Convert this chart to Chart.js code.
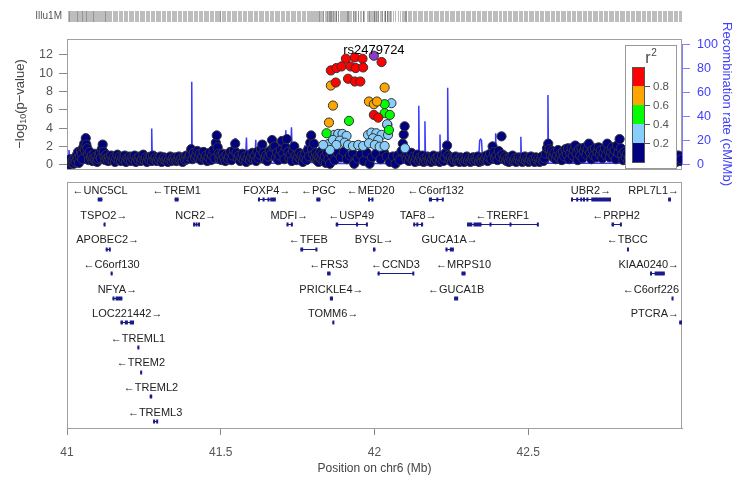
<!DOCTYPE html>
<html>
<head>
<meta charset="utf-8">
<script src="https://cdn.jsdelivr.net/npm/chart.js@4.4.0/dist/chart.umd.min.js"></script>
<style>
  body { margin: 0; background: #fff; }
  #wrap { position: relative; width: 750px; height: 480px; }
  canvas { position: absolute; left: 0; top: 0; }
</style>
</head>
<body>
<div id="wrap">
  <canvas id="genes" width="750" height="480"></canvas>
  <canvas id="assoc" width="750" height="480"></canvas>
</div>
<script>
// --- data: [position (Mb), -log10 p] by r2 bin ---
const leadSnp = [[41.998, 11.92]];
const leadName = 'rs2479724';

const ldRed = [
  [41.907,11.59],[41.936,11.73],[41.961,11.59],[42.023,11.23],
  [41.858,10.31],[41.876,10.57],[41.893,10.75],[41.922,10.75],[41.939,10.57],[41.963,10.64],
  [41.874,8.99],[41.914,9.40],[41.936,9.10],[41.954,9.10],
  [41.998,5.45],[42.012,5.15]
];
const ldOrange = [
  [41.858,8.66],[41.865,6.47],[41.852,4.61],[42.033,8.44],[41.982,6.91],[41.998,6.62],[42.008,6.91]
];
const ldGreen = [
  [41.917,4.79],[41.844,3.44],[42.033,6.62],[42.033,5.64],[42.050,5.45],[42.047,3.80]
];
const ldBlue = [
  [41.851,2.26],[41.869,3.26],[41.882,3.37],[41.896,3.37],[41.909,3.15],[41.865,2.71],[41.887,2.63],
  [41.903,2.41],[41.876,2.16],[41.855,1.61],[41.914,2.16],[41.930,2.05],[41.947,2.16],[41.963,2.05],
  [41.979,3.26],[41.990,3.51],[42.006,3.44],[42.023,3.26],[41.995,2.89],[42.012,2.71],[41.982,2.35],
  [42.001,2.16],[42.017,1.97],[42.033,2.05],[42.042,4.35],[42.099,1.80],[41.833,2.16],[42.055,6.73],
  [42.041,4.43],[42.044,3.26]
];
const ldNavy = [
  [41.002,0.1],[41.005,0.4],[41.008,0.0],[41.010,0.6],[41.013,0.2],[41.016,0.3],[41.019,0.5],[41.022,0.1],
  [41.025,0.7],[41.028,0.3],[41.031,1.0],[41.034,0.6],[41.036,1.4],[41.039,0.2],
  [41.042,0.9],[41.045,1.5],[41.048,1.2],[41.050,0.6],[41.053,1.9],[41.056,2.3],[41.058,1.6],[41.061,2.9],
  [41.063,2.2],[41.066,1.8],[41.068,1.1],[41.071,0.5],[41.074,1.4],[41.077,0.8],[41.080,1.0],[41.083,0.4],
  [41.086,0.7],[41.089,1.2],[41.092,0.5],[41.095,0.9],[41.098,0.3],[41.101,0.6],[41.104,1.0],
  [41.107,1.3],[41.110,0.7],[41.113,1.7],[41.116,2.2],[41.119,1.4],[41.122,0.9],[41.125,0.5],[41.128,1.1],
  [41.131,0.7],[41.134,0.4],[41.137,0.9],[41.140,0.6],[41.144,1.0],[41.148,0.5],[41.152,0.8],[41.156,0.3],
  [41.160,0.7],[41.164,1.1],[41.168,0.5],
  [41.172,0.9],[41.176,0.4],[41.180,0.8],[41.184,0.6],[41.188,1.0],[41.192,0.3],[41.196,0.7],[41.200,0.5],
  [41.204,0.9],[41.208,0.4],[41.212,0.8],[41.216,0.6],[41.220,1.0],[41.224,0.3],[41.228,0.7],[41.232,0.5],
  [41.236,0.9],[41.240,0.4],[41.244,0.6],[41.248,1.1],[41.252,0.5],[41.256,0.8],[41.260,0.3],[41.264,0.7],
  [41.268,0.5],[41.272,0.9],[41.276,0.4],[41.280,1.0],[41.284,0.6],[41.288,0.8],[41.292,0.4],[41.296,0.7],
  [41.300,0.5],[41.304,0.9],[41.308,0.3],[41.312,0.6],[41.316,0.8],[41.320,0.5],[41.324,0.7],[41.328,0.3],
  [41.332,0.6],[41.336,0.9],[41.340,0.4],[41.344,0.7],[41.348,0.5],[41.352,0.8],[41.356,0.4],[41.360,0.6],
  [41.364,0.9],[41.368,0.5],[41.372,0.7],[41.376,0.3],[41.380,0.8],[41.384,0.5],[41.388,1.0],[41.392,0.6],
  [41.396,0.9],
  [41.400,1.1],[41.404,1.7],[41.408,0.6],[41.412,1.3],[41.416,0.8],[41.420,1.0],[41.424,1.5],[41.428,0.7],
  [41.432,1.2],[41.436,0.5],[41.440,0.9],[41.444,1.4],[41.448,0.6],[41.452,1.0],[41.456,0.4],
  [41.460,0.8],[41.464,1.3],[41.468,0.5],[41.472,1.0],[41.476,1.6],[41.480,0.7],[41.484,2.4],[41.487,3.2],
  [41.490,1.9],[41.493,1.2],[41.496,0.6],[41.499,1.0],
  [41.503,0.5],[41.507,1.2],[41.511,0.8],[41.515,0.4],[41.519,1.1],[41.523,0.6],[41.527,0.9],[41.531,1.4],
  [41.535,0.5],[41.539,1.0],[41.543,1.6],[41.547,2.3],[41.551,1.3],[41.555,0.7],[41.559,1.0],[41.563,0.4],
  [41.567,0.8],[41.571,1.2],[41.575,0.5],[41.579,0.9],[41.583,0.3],[41.587,0.7],[41.591,1.1],[41.595,0.5],
  [41.599,0.8],[41.603,1.3],[41.607,0.6],[41.611,1.0],[41.615,0.4],[41.619,1.4],[41.623,0.7],[41.627,1.1],
  [41.631,1.7],[41.635,2.2],[41.639,1.3],[41.643,0.6],[41.647,1.0],[41.651,0.4],[41.655,0.9],[41.659,1.5],
  [41.663,1.1],[41.667,2.7],[41.671,1.9],[41.675,2.0],[41.679,0.8],[41.683,1.3],[41.687,0.5],[41.691,1.0],
  [41.695,1.6],[41.699,2.6],[41.703,1.2],[41.707,0.6],[41.711,1.9],[41.715,2.8],[41.719,1.4],[41.723,0.7],
  [41.727,1.1],[41.731,0.4],[41.735,1.5],[41.739,2.0],[41.743,1.0],[41.747,0.5],[41.751,0.9],[41.755,1.3],
  [41.759,0.6],[41.763,1.0],[41.767,0.3],[41.771,0.8],[41.775,1.2],[41.779,0.5],[41.783,1.6],[41.787,0.9],
  [41.791,2.4],[41.794,3.2],[41.797,1.7],[41.800,1.1],[41.803,2.3],[41.806,0.7],[41.809,1.3],[41.812,0.5],
  [41.815,1.0],[41.818,0.3],[41.821,0.8],[41.824,1.4],[41.827,0.6],[41.830,1.1],[41.834,0.4],[41.838,0.9],
  [41.842,0.2],[41.846,1.3],[41.850,0.6],[41.855,0.1],
  [41.862,1.0],[41.870,0.5],[41.880,1.3],[41.890,0.8],[41.900,1.4],[41.910,0.6],[41.920,1.0],[41.930,1.2],
  [41.934,0.1],[41.945,0.7],[41.955,1.1],[41.965,0.4],[41.975,1.3],[41.984,0.1],[41.992,0.8],[42.005,1.2],
  [42.020,0.6],[42.030,1.4],[42.040,0.9],[42.050,0.3],[42.060,0.9],[42.068,0.1],[42.075,1.0],[42.082,0.5],
  [42.088,1.5],[42.092,2.3],[42.095,3.3],[42.098,4.2],[42.101,1.0],
  [42.104,0.6],[42.108,1.2],[42.112,0.4],[42.116,0.8],[42.120,1.3],[42.124,0.5],[42.128,0.9],[42.132,0.3],
  [42.136,0.7],[42.140,1.1],[42.144,0.4],[42.148,0.8],[42.152,0.5],[42.156,1.0],[42.160,0.3],[42.164,0.7],
  [42.168,0.4],[42.172,0.9],[42.176,0.5],[42.180,0.8],[42.184,0.3],[42.188,0.6],[42.192,1.0],[42.196,0.4],
  [42.200,0.7],[42.204,0.5],[42.208,0.9],[42.212,0.3],[42.216,0.6],[42.220,1.0],[42.224,0.4],[42.228,0.8],
  [42.232,1.3],[42.236,2.1],[42.240,1.0],[42.244,0.5],[42.248,0.8],[42.252,0.3],[42.256,0.7],[42.260,0.5],
  [42.264,0.9],[42.268,0.4],[42.272,0.6],[42.276,0.3],[42.280,0.8],[42.284,0.5],[42.288,0.7],[42.292,0.3],
  [42.296,0.6],[42.300,0.9],[42.304,0.4],[42.308,0.7],[42.312,0.3],[42.316,0.6],[42.320,0.8],[42.324,0.4],
  [42.328,0.7],[42.332,0.5],[42.336,0.9],[42.340,0.3],[42.344,0.6],[42.348,0.4],[42.352,0.8],[42.356,0.5],
  [42.360,0.7],[42.364,1.0],[42.368,0.4],
  [42.372,0.8],[42.376,1.2],[42.380,0.6],[42.384,2.0],[42.388,1.4],[42.392,0.7],[42.396,1.0],[42.400,0.5],
  [42.404,1.5],[42.408,0.9],[42.413,3.1],[42.417,1.1],[42.421,0.6],[42.425,0.9],[42.429,0.4],[42.433,0.7],
  [42.437,0.3],[42.441,0.8],[42.445,0.5],[42.449,1.0],[42.453,0.4],[42.457,0.7],[42.461,0.3],[42.465,0.6],
  [42.469,0.8],
  [42.473,0.4],[42.477,0.7],[42.481,0.3],[42.485,0.6],[42.489,0.9],[42.493,0.4],[42.497,0.7],[42.501,0.3],
  [42.505,0.6],[42.509,0.9],[42.513,0.4],[42.517,0.6],[42.521,0.3],[42.525,0.8],[42.529,0.5],[42.533,0.7],
  [42.537,0.3],[42.541,0.6],[42.545,0.9],[42.549,0.4],[42.553,0.7],[42.557,1.2],[42.561,1.8],[42.565,2.3],
  [42.569,1.7],[42.573,1.1],[42.577,1.5],[42.581,0.8],[42.585,1.3],[42.589,0.6],[42.593,1.0],[42.597,1.6],
  [42.601,0.7],[42.605,1.2],[42.609,0.5],[42.613,1.4],[42.617,0.9],[42.621,1.7],[42.625,1.1],[42.629,1.8],
  [42.633,0.6],[42.637,1.3],[42.641,1.8],[42.645,1.0],[42.649,1.6],[42.653,2.1],[42.657,1.2],[42.661,0.5],
  [42.665,1.7],[42.669,1.0],[42.673,1.8],[42.677,0.7],[42.681,1.5],[42.685,1.9],[42.689,1.1],[42.693,1.7],
  [42.697,2.3],[42.701,1.3],[42.705,0.6],[42.709,1.6],[42.713,1.0],[42.717,1.8],[42.721,0.8],[42.725,1.4],
  [42.729,1.9],[42.733,1.1],[42.737,1.6],[42.741,0.7],[42.745,1.3],[42.749,1.8],[42.753,1.0],[42.757,2.3],
  [42.761,1.5],[42.765,0.8],[42.769,1.4],[42.773,1.9],[42.777,1.0],[42.781,1.6],[42.785,0.6],[42.789,2.1],
  [42.793,1.3],[42.797,2.8],[42.801,1.8],[42.805,1.1],[42.809,0.5],[42.813,1.4],[42.817,0.8],[42.821,1.2],
  [42.825,0.4],[42.829,0.9],[42.833,1.5],[42.837,0.6],[42.841,1.1],[42.845,0.3],[42.849,0.8],[42.853,1.3],
  [42.857,0.5],[42.861,1.0],[42.865,1.6],[42.869,0.7],[42.873,1.2],[42.877,0.4],[42.881,0.9],[42.885,1.4],
  [42.889,0.6],[42.893,1.0],[42.897,0.3],[42.901,0.8],[42.905,1.2],[42.909,0.5],[42.913,0.9],[42.917,1.5],
  [42.921,0.7],[42.925,1.1],[42.929,0.4],[42.933,0.8],[42.937,1.3],[42.941,0.6],[42.945,1.0],[42.949,0.3],
  [42.953,0.7],[42.957,1.1],[42.961,0.5],[42.965,0.9],[42.969,1.4],[42.973,0.6],[42.977,1.0],[42.981,0.3],
  [42.985,0.7],[42.989,1.0],[42.993,0.4],[42.997,0.6]
];

// recombination rate (cM/Mb)
const recombPos = [41.000,41.004,41.0065,41.009,41.05,41.10,41.15,41.20,41.267,41.270,41.272,41.2745,41.2755,41.2775,
  41.33,41.40,41.4045,41.4057,41.407,41.45,41.50,41.544,41.5465,41.549,41.58,41.5836,41.586,41.611,41.6139,41.616,
  41.67,41.709,41.7115,41.714,41.727,41.730,41.733,41.771,41.773,41.775,41.81,41.813,41.816,41.85,41.95,42.05,
  42.10,42.142,42.144,42.146,42.162,42.164,42.166,42.211,42.213,42.215,42.236,42.238,42.240,42.304,42.306,42.308,
  42.321,42.323,42.325,42.338,42.342,42.345,42.348,42.352,42.392,42.394,42.396,42.474,42.476,42.478,42.562,42.564,
  42.566,42.65,42.75,42.85,42.95,43.0];
const recombRate = [0.8,1.5,12,1,1.2,0.8,1.0,0.9,1,8,1.5,2,30,1.5,
  1.0,1.5,2,69,2,1.0,1.2,2,22,2,2,22.5,1.5,2,20.6,1.5,
  1,1.5,28.6,2,2,31,2,1.5,16,1.5,1.5,12,1,0.8,0.8,0.8,
  1,1,49,1,1,36,1,1,25,1,1,64,1,1,9,1,
  1,10,1,1,20,21,20,1,1,26,1,1,23,1,1,58,
  1,1,1,1.2,1,1];

// genes: name, start, end, strand, row, exons
const genes = [
  ['UNC5CL',41.100,41.115,-1,1,null],
  ['TREM1',41.350,41.363,-1,1,null],
  ['FOXP4',41.621,41.679,1,1,[[41.621,41.623],[41.636,41.638],[41.652,41.654],[41.661,41.679]]],
  ['PGC',41.811,41.824,-1,1,null],
  ['MED20',41.979,41.996,-1,1,[[41.979,41.983],[41.990,41.996]]],
  ['C6orf132',42.177,42.221,-1,1,[[42.177,42.187],[42.201,42.203],[42.219,42.221]]],
  ['UBR2',42.639,42.769,1,1,[[42.639,42.641],[42.656,42.658],[42.669,42.671],[42.678,42.680],[42.689,42.691],[42.705,42.769]]],
  ['RPL7L1',42.955,42.964,1,1,null],
  ['TSPO2',41.119,41.121,1,2,null],
  ['NCR2',41.410,41.428,1,2,[[41.410,41.412],[41.418,41.420],[41.426,41.428]]],
  ['MDFI',41.714,41.732,1,2,[[41.714,41.718],[41.728,41.732]]],
  ['USP49',41.874,41.974,-1,2,[[41.874,41.882],[41.940,41.942],[41.972,41.974]]],
  ['TAF8',42.126,42.158,1,2,[[42.126,42.129],[42.136,42.139],[42.151,42.158]]],
  ['TRERF1',42.301,42.530,-1,2,[[42.301,42.318],[42.322,42.348],[42.374,42.376],[42.439,42.441],[42.528,42.530]]],
  ['PRPH2',42.771,42.800,-1,2,[[42.771,42.779],[42.798,42.800]]],
  ['APOBEC2',41.126,41.139,1,3,[[41.126,41.129],[41.136,41.139]]],
  ['TFEB',41.759,41.811,-1,3,[[41.759,41.768],[41.808,41.811]]],
  ['BYSL',41.995,42.003,1,3,null],
  ['GUCA1A',42.231,42.258,1,3,[[42.231,42.234],[42.245,42.258]]],
  ['TBCC',42.821,42.823,-1,3,null],
  ['C6orf130',41.142,41.148,-1,4,null],
  ['FRS3',41.846,41.857,-1,4,null],
  ['CCND3',42.010,42.126,-1,4,[[42.010,42.017],[42.123,42.126]]],
  ['MRPS10',42.283,42.296,-1,4,null],
  ['KIAA0240',42.896,42.944,1,4,[[42.896,42.899],[42.911,42.944]]],
  ['NFYA',41.148,41.180,1,5,[[41.148,41.151],[41.158,41.180]]],
  ['PRICKLE4',41.855,41.865,1,5,null],
  ['GUCA1B',42.259,42.272,-1,5,null],
  ['C6orf226',42.966,42.967,-1,5,null],
  ['LOC221442',41.174,41.218,1,6,[[41.174,41.182],[41.188,41.198],[41.204,41.218]]],
  ['TOMM6',41.863,41.868,1,6,null],
  ['PTCRA',42.991,43.000,1,6,null],
  ['TREML1',41.229,41.233,-1,7,null],
  ['TREM2',41.238,41.243,-1,8,null],
  ['TREML2',41.269,41.277,-1,9,null],
  ['TREML3',41.280,41.293,-1,10,[[41.280,41.283],[41.290,41.293]]]
];

const xTicks = [41, 41.5, 42, 42.5];
const pTicks = [0, 2, 4, 6, 8, 10, 12];
const recombTicks = [0, 20, 40, 60, 80, 100];
const r2Labels = ['0.8', '0.6', '0.4', '0.2'];
const r2Colors = ['#ff0000', '#ffa500', '#00ff00', '#87cefa', '#000080'];
const leadColor = '#8a3cc8';

const FONT = "'Liberation Sans', Arial, sans-serif";
const BLUE = '#4040ff';

function toXY(arr) { return arr.map(d => ({ x: d[0], y: d[1] })); }
function fixTicks(list) { return s => { s.ticks = list.map(v => ({ value: v })); }; }

function pointSet(data, color, order) {
  return {
    type: 'scatter', data: toXY(data), order: order,
    backgroundColor: color, borderColor: '#333', borderWidth: 1,
    pointRadius: 4.6, pointHoverRadius: 4.6, yAxisID: 'y'
  };
}

const assocDecor = {
  id: 'assocDecor',
  beforeDatasetsDraw(chart) {
    const ctx = chart.ctx, a = chart.chartArea;
    ctx.save();
    ctx.strokeStyle = '#a0a0a0';
    ctx.lineWidth = 1;
    ctx.strokeRect(a.left + 0.5, a.top + 0.5, a.right - a.left - 1, a.bottom - a.top);
    ctx.restore();
  },
  afterDraw(chart) {
    const ctx = chart.ctx, a = chart.chartArea;
    const xs = chart.scales.x, ys = chart.scales.y, y2 = chart.scales.y2;
    ctx.save();

    // Illu1M coverage track, one tick per typed SNP
    const all = [].concat(ldNavy, ldBlue, ldGreen, ldOrange, ldRed, leadSnp);
    ctx.strokeStyle = 'rgba(90,90,90,0.4)';
    ctx.lineWidth = 1;
    all.forEach(d => {
      const px = Math.round(xs.getPixelForValue(d[0])) + 0.5;
      ctx.beginPath(); ctx.moveTo(px, 11); ctx.lineTo(px, 22); ctx.stroke();
    });
    ctx.fillStyle = '#555';
    ctx.font = '10px ' + FONT;
    ctx.textAlign = 'right'; ctx.textBaseline = 'middle';
    ctx.fillText('Illu1M', a.left - 5, 16.5);

    // right axis line
    ctx.strokeStyle = '#8080ff';
    ctx.beginPath();
    ctx.moveTo(a.right + 0.5, y2.getPixelForValue(0));
    ctx.lineTo(a.right + 0.5, y2.getPixelForValue(100));
    ctx.stroke();

    // lead SNP label
    const lx = xs.getPixelForValue(leadSnp[0][0]), ly = ys.getPixelForValue(leadSnp[0][1]);
    ctx.fillStyle = '#000';
    ctx.font = '13px ' + FONT;
    ctx.textAlign = 'center'; ctx.textBaseline = 'alphabetic';
    ctx.fillText(leadName, lx, ly - 2);

    // left axis title with subscript
    ctx.save();
    ctx.translate(20, (a.top + a.bottom) / 2);
    ctx.rotate(-Math.PI / 2);
    ctx.fillStyle = '#444';
    const p1 = '\u2212log', p2 = '10', p3 = '(p\u2212value)';
    ctx.font = '13px ' + FONT;
    const w1 = ctx.measureText(p1).width, w3 = ctx.measureText(p3).width;
    ctx.font = '9px ' + FONT;
    const w2 = ctx.measureText(p2).width;
    let x0 = -(w1 + w2 + w3) / 2;
    ctx.textAlign = 'left'; ctx.textBaseline = 'middle';
    ctx.font = '13px ' + FONT; ctx.fillText(p1, x0, 0);
    ctx.font = '9px ' + FONT; ctx.fillText(p2, x0 + w1, 4);
    ctx.font = '13px ' + FONT; ctx.fillText(p3, x0 + w1 + w2, 0);
    ctx.restore();

    // right axis title
    ctx.save();
    ctx.translate(727, (a.top + a.bottom) / 2);
    ctx.rotate(Math.PI / 2);
    ctx.fillStyle = BLUE;
    ctx.font = '13px ' + FONT;
    ctx.textAlign = 'center'; ctx.textBaseline = 'middle';
    ctx.fillText('Recombination rate (cM/Mb)', 0, 0);
    ctx.restore();

    // r2 legend
    const bx = a.right - 57, by = a.top + 6, bw = 51, bh = 123;
    ctx.fillStyle = '#fff';
    ctx.fillRect(bx, by, bw, bh);
    ctx.strokeStyle = '#999';
    ctx.strokeRect(bx + 0.5, by + 0.5, bw, bh);
    ctx.fillStyle = '#444';
    ctx.font = '16px ' + FONT;
    ctx.textAlign = 'center'; ctx.textBaseline = 'alphabetic';
    ctx.fillText('r', bx + 23, by + 18);
    ctx.font = '10px ' + FONT;
    ctx.fillText('2', bx + 29, by + 11);
    const cx = bx + 7, cw = 12, ch = 19, cy = by + 22;
    r2Colors.forEach((c, i) => {
      ctx.fillStyle = c;
      ctx.fillRect(cx, cy + i * ch, cw, ch);
    });
    ctx.strokeStyle = '#555';
    ctx.strokeRect(cx + 0.5, cy + 0.5, cw, ch * r2Colors.length);
    ctx.font = '11.5px ' + FONT;
    ctx.textAlign = 'left'; ctx.textBaseline = 'middle';
    r2Labels.forEach((t, i) => {
      const ty = Math.round(cy + (i + 1) * ch) + 0.5;
      ctx.beginPath(); ctx.moveTo(cx + cw, ty); ctx.lineTo(cx + cw + 6, ty); ctx.stroke();
      ctx.fillStyle = '#555';
      ctx.fillText(t, cx + cw + 9, ty);
    });
    ctx.restore();
  }
};

const geneDecor = {
  id: 'geneDecor',
  afterDraw(chart) {
    const ctx = chart.ctx, a = chart.chartArea;
    const xs = chart.scales.x, ys = chart.scales.y;
    ctx.save();
    ctx.strokeStyle = '#a0a0a0';
    ctx.lineWidth = 1;
    ctx.strokeRect(a.left + 0.5, a.top + 0.5, a.right - a.left - 1, a.bottom - a.top);

    ctx.font = '11px ' + FONT;
    ctx.textAlign = 'center'; ctx.textBaseline = 'middle';
    genes.forEach(g => {
      const [name, s, e, strand, row, exons] = g;
      const x1 = xs.getPixelForValue(s), x2 = xs.getPixelForValue(e);
      const yb = ys.getPixelForValue(row - 0.29), yl = ys.getPixelForValue(row - 0.63);
      // gene body
      ctx.strokeStyle = '#1a1a8c';
      ctx.beginPath(); ctx.moveTo(x1, Math.round(yb) + 0.5); ctx.lineTo(x2, Math.round(yb) + 0.5); ctx.stroke();
      ctx.fillStyle = '#1a1a8c';
      (exons || [[s, e]]).forEach(ex => {
        const e1 = xs.getPixelForValue(ex[0]), e2 = xs.getPixelForValue(ex[1]);
        const w = Math.max(2, e2 - e1);
        ctx.fillRect(Math.min(e1, a.right - w), Math.round(yb) - 1.5, w, 4);
      });
      // label
      const txt = strand > 0 ? name + '\u2192' : '\u2190' + name;
      const w = ctx.measureText(txt).width;
      let mx = (x1 + x2) / 2;
      mx = Math.max(a.left + w / 2 + 3, Math.min(a.right - w / 2 - 3, mx));
      ctx.fillStyle = '#222';
      ctx.fillText(txt, mx, yl);
    });
    ctx.restore();
  }
};

new Chart(document.getElementById('genes'), {
  type: 'scatter',
  data: { datasets: [] },
  options: {
    responsive: false, animation: false, devicePixelRatio: 1,
    layout: { padding: { left: 67, right: 68, top: 182, bottom: 0 } },
    plugins: { legend: { display: false }, tooltip: { enabled: false } },
    scales: {
      x: {
        type: 'linear', min: 41, max: 43,
        afterBuildTicks: fixTicks(xTicks),
        afterFit: s => { s.height = 52; },
        ticks: { color: '#555', font: { family: FONT, size: 12 }, padding: 10, callback: v => String(v) },
        grid: { drawOnChartArea: false, tickLength: 7, color: '#888' },
        border: { display: true, color: '#a0a0a0' },
        title: { display: true, text: 'Position on chr6 (Mb)', color: '#444', font: { family: FONT, size: 12 }, padding: { top: 4, bottom: 4 } }
      },
      y: { type: 'linear', min: 0, max: 10, reverse: true, display: false }
    }
  },
  plugins: [geneDecor]
});

new Chart(document.getElementById('assoc'), {
  data: {
    datasets: [
      pointSet(leadSnp, leadColor, 0),
      pointSet(ldRed, r2Colors[0], 1),
      pointSet(ldOrange, r2Colors[1], 2),
      pointSet(ldGreen, r2Colors[2], 3),
      pointSet(ldBlue, r2Colors[3], 4),
      pointSet(ldNavy, r2Colors[4], 5),
      {
        type: 'line', order: 10, yAxisID: 'y2',
        data: recombPos.map((p, i) => ({ x: p, y: recombRate[i] })),
        borderColor: '#3a3aff', borderWidth: 1.5, pointRadius: 0, tension: 0, fill: false
      }
    ]
  },
  options: {
    responsive: false, animation: false, devicePixelRatio: 1,
    layout: { padding: { left: 0, right: 0, top: 39, bottom: 311 } },
    plugins: { legend: { display: false }, tooltip: { enabled: false } },
    scales: {
      x: { type: 'linear', min: 41, max: 43, display: false },
      y: {
        type: 'linear', position: 'left', min: -0.47, max: 13.75,
        afterBuildTicks: fixTicks(pTicks),
        afterFit: s => { s.width = 67; },
        ticks: { color: '#555', font: { family: FONT, size: 12.5 }, padding: 6 },
        grid: { drawOnChartArea: false, tickLength: 8, color: '#888' },
        border: { display: false }
      },
      y2: {
        type: 'linear', position: 'right', min: -3.9, max: 104.8,
        afterBuildTicks: fixTicks(recombTicks),
        afterFit: s => { s.width = 68; },
        ticks: { color: BLUE, font: { family: FONT, size: 12.5 }, padding: 7 },
        grid: { drawOnChartArea: false, tickLength: 8, color: '#8080ff' },
        border: { display: false }
      }
    }
  },
  plugins: [assocDecor]
});
</script>
</body>
</html>
